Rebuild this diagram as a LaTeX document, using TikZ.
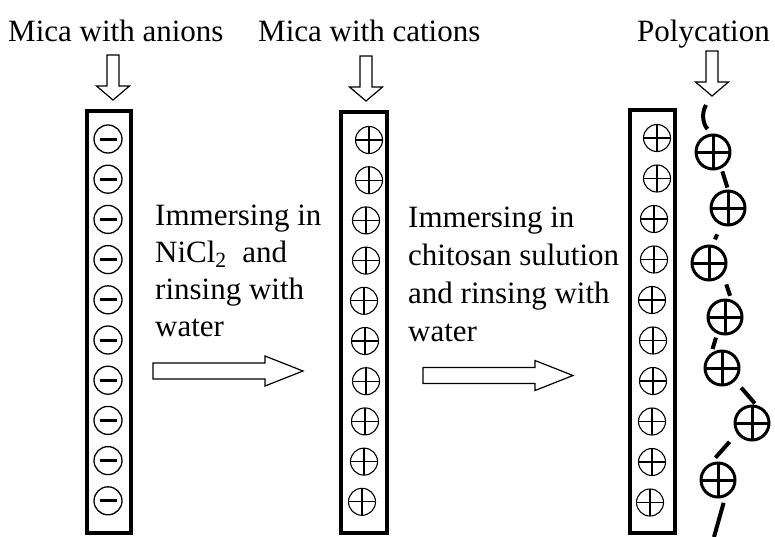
\documentclass[tikz,border=0pt]{standalone}
\usepackage{fontspec}
\setmainfont{Liberation Serif}
\begin{document}
\begin{tikzpicture}[x=1pt,y=1pt,
  txt/.style={font=\fontsize{31}{37}\selectfont, inner sep=0pt, anchor=base west},
  micabar/.style={draw, line width=4pt},
  anion/.style={circle, draw, line width=1.3pt, minimum size=28pt, inner sep=0pt,
    path picture={\draw[line width=3pt]
      ([xshift=-8.5pt]path picture bounding box.center) --
      ([xshift=8.5pt]path picture bounding box.center);}},
  cation/.style={circle, draw, line width=1.1pt, minimum size=27pt, inner sep=0pt,
    path picture={\draw[line width=1.1pt]
      (path picture bounding box.north) -- (path picture bounding box.south)
      (path picture bounding box.west) -- (path picture bounding box.east);}},
  polyion/.style={circle, draw, line width=3pt, minimum size=34pt, inner sep=0pt,
    path picture={\draw[line width=3pt]
      (path picture bounding box.north) -- (path picture bounding box.south)
      (path picture bounding box.west) -- (path picture bounding box.east);}},
  chainlink/.style={line width=4pt},
  blockarrow/.style={draw, line width=1.2pt, fill=white, line join=miter},
  downblock/.pic={\draw[blockarrow] (-6,0) -- (6,0) -- (6,-31) -- (16.5,-31)
      -- (0,-45) -- (-16.5,-31) -- (-6,-31) -- cycle;},
  rightblock/.pic={\draw[blockarrow] (0,8) -- (112,8) -- (112,15) -- (150,0)
      -- (112,-15) -- (112,-8) -- (0,-8) -- cycle;}
]
\fill[white] (0,0) rectangle (775,-536);
\useasboundingbox (0,0) rectangle (775,-536);

% headings
\node[txt] (hdA) at (8,-41) {Mica with anions};
\node[txt] (hdB) at (258,-41) {Mica with cations};
\node[txt] (hdC) at (637,-41) {Polycation};

% downward hollow arrows
\pic at (113,-55) {downblock};
\pic at (366,-56) {downblock};
\pic at (712,-51) {downblock};

% mica sheets
\draw[micabar] (87,-111) rectangle (131,-532.5);
\draw[micabar] (340.5,-111.5) rectangle (386.5,-532.5);
\draw[micabar] (629.5,-109.7) rectangle (675,-532.5);

% anions on the first sheet
\foreach \i in {0,...,9}
  \node[anion] (a\i) at (108,{-(139+40.2*\i)}) {};

% cations on the second sheet
\foreach \x [count=\i from 0] in {369,369,366,366,364,365,366,365,364,362}
  \node[cation] (m\i) at (\x,{-(140+40.2*\i)}) {};

% cations on the third sheet
\foreach \x [count=\i from 0] in {657,657,654,654,652,653,653,652,652,650}
  \node[cation] (r\i) at (\x,{-(138+40.5*\i)}) {};

% polycation chain
\node[polyion] (p1) at (713,-152) {};
\node[polyion] (p2) at (728,-208) {};
\node[polyion] (p3) at (709,-263) {};
\node[polyion] (p4) at (725,-317) {};
\node[polyion] (p5) at (722,-368) {};
\node[polyion] (p6) at (752,-423) {};
\node[polyion] (p7) at (718,-480) {};
\coordinate (chaintop) at (706,-105);
\coordinate (chainend) at (714,-537);
\draw[chainlink, shorten >=7pt] (chaintop) to[out=-120,in=140] (p1.north);
\draw[chainlink, shorten <=3pt, shorten >=2pt] (p1.297) -- (p2.90);
\draw[chainlink, shorten <=10pt, shorten >=6pt] (p2.250) -- (p3.80);
\draw[chainlink, shorten <=10pt, shorten >=4pt] (p3.320) -- (p4.70);
\draw[chainlink, shorten <=4pt, shorten >=4pt] (p4.245) -- (p5.125);
\draw[chainlink, shorten <=9pt, shorten >=2pt] (p5.316) -- (p6.77);
\draw[chainlink, shorten <=11pt, shorten >=7pt] (p6.215) -- (p7.113);
\draw[chainlink, shorten <=6pt] (p7.293) -- (chainend);

% first step
\node[txt] (s1a) at (155,-225) {Immersing in};
\node[txt] (s1b) at (155,-262) {NiCl\textsubscript{2}\ \ and};
\node[txt] (s1c) at (155,-299) {rinsing with};
\node[txt] (s1d) at (155,-336) {water};
\pic at (153,-371) {rightblock};

% second step
\node[txt] (s2a) at (408,-227) {Immersing in};
\node[txt] (s2b) at (408,-265) {chitosan sulution};
\node[txt] (s2c) at (408,-303) {and rinsing with};
\node[txt] (s2d) at (408,-341) {water};
\pic at (423,-375.5) {rightblock};
\end{tikzpicture}
\end{document}
